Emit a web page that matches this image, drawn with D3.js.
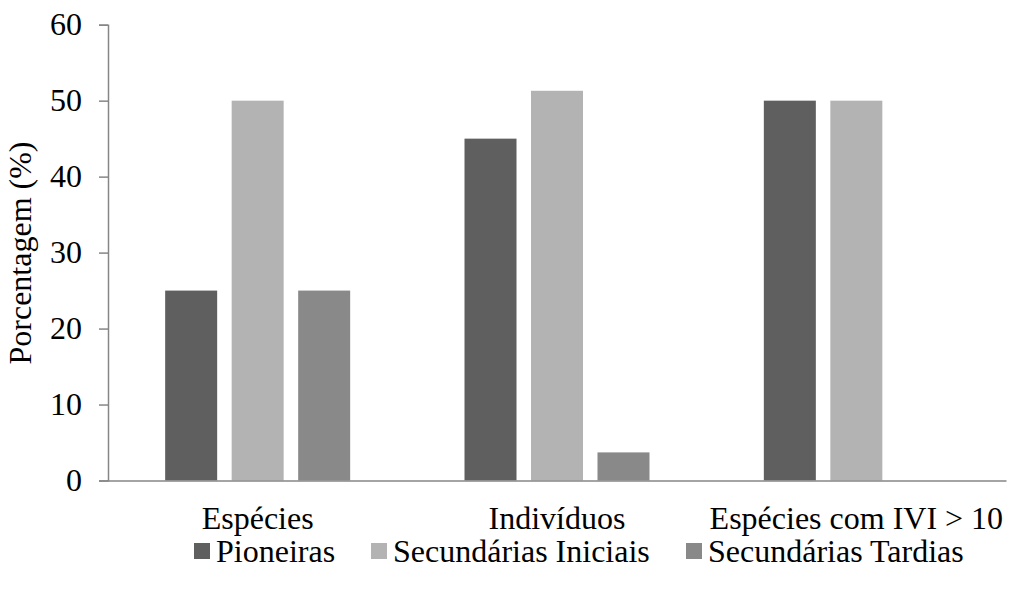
<!DOCTYPE html>
<html>
<head>
<meta charset="utf-8">
<script src="https://cdn.jsdelivr.net/npm/d3@7"></script>
<style>
  html, body { margin: 0; padding: 0; background: #fff; }
  svg { display: block; }
  svg text { font-family: "Liberation Serif", "Times New Roman", Tinos, "DejaVu Serif", serif !important; fill: #000; }
</style>
</head>
<body>
<svg id="chart" width="1012" height="591"></svg>
<script>
// Ecological groups as percentages of species, individuals and species with IVI > 10
const categories = ["Espécies", "Indivíduos", "Espécies com IVI > 10"];
const seriesNames = ["Pioneiras", "Secundárias Iniciais", "Secundárias Tardias"];
const pioneiras = [25, 45, 50];
const secundariasIniciais = [50, 51.3, 50];
const secundariasTardias = [25, 3.7, 0];
const yTicks = [0, 10, 20, 30, 40, 50, 60];
const colors = ["#5f5f5f", "#b3b3b3", "#898989"];

const seriesValues = [pioneiras, secundariasIniciais, secundariasTardias];

const svg = d3.select("#chart");
const axisColor = "#868686";
const fontSize = 32;

const x = d3.scaleBand().domain(categories).range([108, 1006]).paddingInner(0).paddingOuter(0);
const xs = d3.scaleBand().domain(seriesNames)
  .range([x.bandwidth() / 2 - 92.5, x.bandwidth() / 2 + 92.5])
  .paddingInner(0.218).paddingOuter(0);
const y = d3.scaleLinear().domain([0, 60]).range([480.5, 24.7]);
const color = d3.scaleOrdinal().domain(seriesNames).range(colors);

// bars
const rows = [];
categories.forEach((c, i) => {
  seriesNames.forEach((s, j) => {
    rows.push({ cat: c, ser: s, val: seriesValues[j][i] });
  });
});
svg.append("g").selectAll("rect").data(rows.filter(d => d.val > 0)).join("rect")
  .attr("x", d => x(d.cat) + xs(d.ser))
  .attr("width", xs.bandwidth())
  .attr("y", d => y(d.val))
  .attr("height", d => y(0) - y(d.val))
  .attr("fill", d => color(d.ser));

// y axis
const yAxis = svg.append("g").attr("transform", "translate(108,0)")
  .call(d3.axisLeft(y).tickValues(yTicks).tickSize(9).tickPadding(17).tickFormat(d3.format("d")));
yAxis.attr("font-family", null).attr("font-size", null);
yAxis.select(".domain").attr("stroke", axisColor).attr("stroke-width", 1.5);
yAxis.selectAll(".tick line").attr("stroke", axisColor).attr("stroke-width", 1.5);
yAxis.selectAll(".tick text").attr("font-size", fontSize).attr("fill", "#000");

// x axis
const xAxis = svg.append("g").attr("transform", `translate(0,${y(0)})`)
  .call(d3.axisBottom(x).tickSize(0).tickPadding(26));
xAxis.attr("font-family", null).attr("font-size", null);
xAxis.select(".domain").attr("stroke", axisColor).attr("stroke-width", 1.5);
xAxis.selectAll(".tick text").attr("font-size", fontSize).attr("fill", "#000");

// y title
svg.append("text")
  .attr("transform", "translate(31,253) rotate(-90)")
  .attr("text-anchor", "middle")
  .attr("font-size", fontSize)
  .text("Porcentagem (%)");

// legend
const legendX = [194, 371, 686];
const legend = svg.append("g").selectAll("g").data(seriesNames).join("g")
  .attr("transform", (d, i) => `translate(${legendX[i]},0)`);
legend.append("rect").attr("x", 0).attr("y", 543).attr("width", 16).attr("height", 16)
  .attr("fill", d => color(d));
legend.append("text").attr("x", 22).attr("y", 562).attr("font-size", fontSize).text(d => d);
</script>
</body>
</html>
